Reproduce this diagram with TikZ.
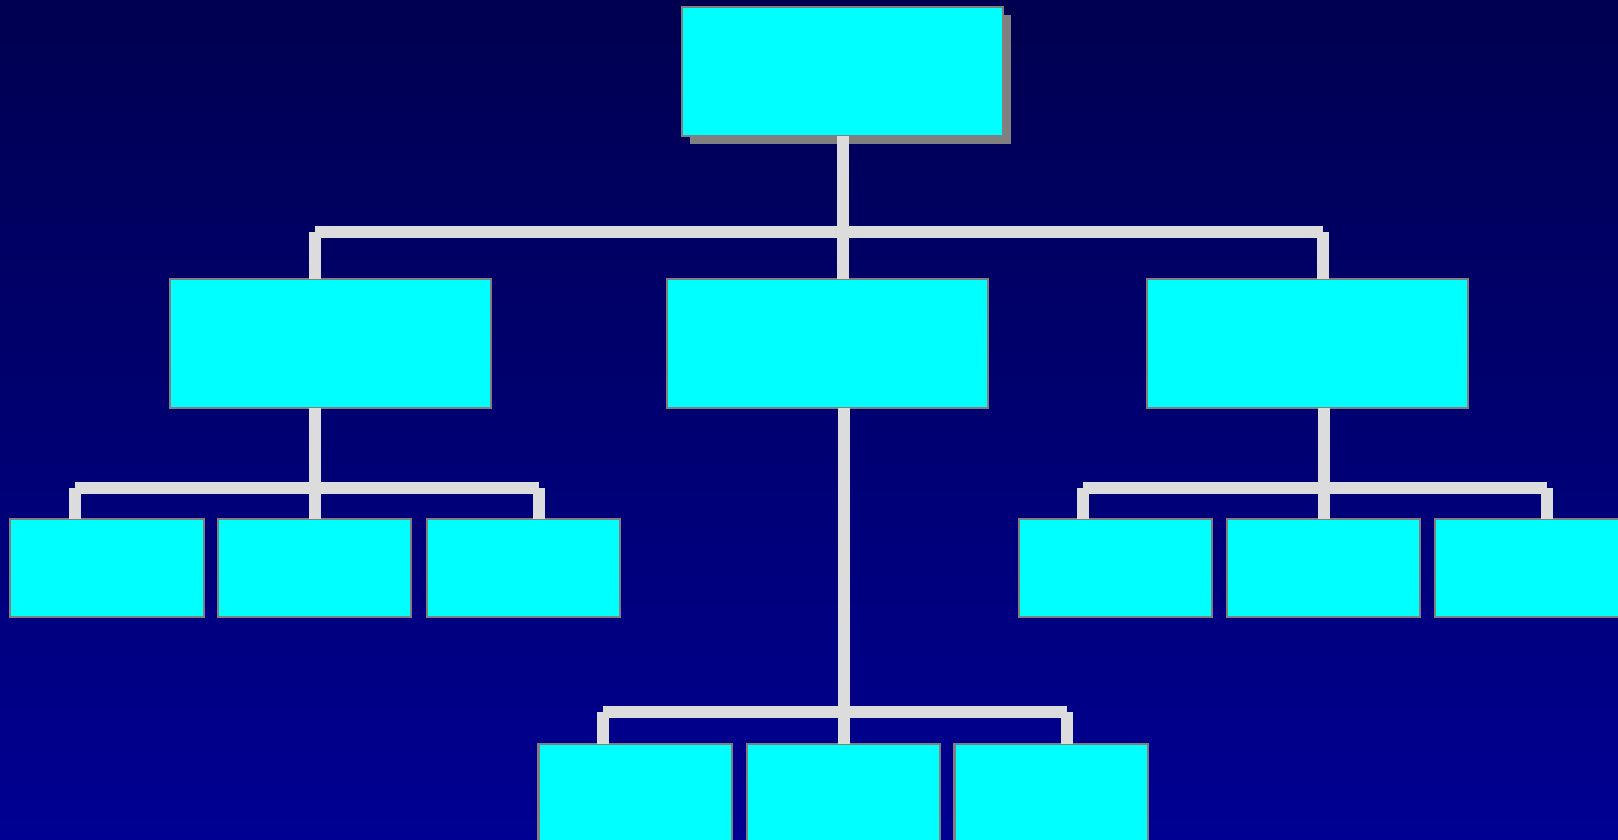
\documentclass[tikz,border=0pt]{standalone}
\usepackage{tikz}
\usepackage{xcolor}
\usetikzlibrary{shadows}
\definecolor{bgtop}{RGB}{0, 0, 80}
\definecolor{bgbot}{RGB}{0, 0, 146}
\definecolor{boxfill}{RGB}{0, 255, 255}
\definecolor{boxline}{RGB}{128, 128, 128}
\definecolor{linkgray}{RGB}{220, 220, 220}

\begin{document}
\begin{tikzpicture}[x=0.01cm, y=-0.01cm,
    box/.style={rectangle, draw=boxline, fill=boxfill, line width=0.6pt,
                inner sep=0pt, outer sep=0pt, minimum width=3.21cm, minimum height=1.29cm},
    small/.style={box, minimum width=1.93cm, minimum height=0.98cm},
    link/.style={draw=linkgray, line width=0.12cm}]

    % Background
    \clip (0, 0) rectangle (1618, 839);
    \shade[top color=bgtop, bottom color=bgbot] (0, 0) rectangle (1618, 839);

    % Top box
    \node[box, drop shadow={shadow xshift=0.08cm, shadow yshift=-0.08cm,
          fill=boxline, opacity=1}] (T) at (842.5, 71.5) {};

    % Second row
    \node[box] (L) at (330.5, 343.5) {};
    \node[box] (M) at (827.5, 343.5) {};
    \node[box] (R) at (1307.5, 343.5) {};

    % Third row, left
    \node[small] (L1) at (107, 568) {};
    \node[small] (L2) at (314.5, 568) {};
    \node[small] (L3) at (523.5, 568) {};

    % Third row, right
    \node[small] (R1) at (1115.5, 568) {};
    \node[small] (R2) at (1323.5, 568) {};
    \node[small] (R3) at (1531.5, 568) {};

    % Bottom row
    \node[small] (M1) at (635, 793) {};
    \node[small] (M2) at (843.5, 793) {};
    \node[small] (M3) at (1051, 793) {};

    % Junctions
    \coordinate (ja) at (315, 232);
    \coordinate (jb) at (1323, 232);
    \coordinate (ka) at (75, 488);
    \coordinate (kb) at (539, 488);
    \coordinate (ra) at (1083, 488);
    \coordinate (rb) at (1547, 488);
    \coordinate (ma) at (603, 712);
    \coordinate (mb) at (1067, 712);

    % Top to second row
    \draw[link] (T.south) -- (T.south |- M.north);
    \draw[link] (ja) -- (jb);
    \draw[link] (ja) -- (ja |- L.north);
    \draw[link] (jb) -- (jb |- R.north);

    % Left branch
    \draw[link] (L2.north |- L.south) -- (L2.north);
    \draw[link] (ka) -- (kb);
    \draw[link] (ka) -- (ka |- L1.north);
    \draw[link] (kb) -- (kb |- L3.north);

    % Right branch
    \draw[link] (R2.north |- R.south) -- (R2.north);
    \draw[link] (ra) -- (rb);
    \draw[link] (ra) -- (ra |- R1.north);
    \draw[link] (rb) -- (rb |- R3.north);

    % Middle branch
    \draw[link] (M2.north |- M.south) -- (M2.north);
    \draw[link] (ma) -- (mb);
    \draw[link] (ma) -- (ma |- M1.north);
    \draw[link] (mb) -- (mb |- M3.north);
\end{tikzpicture}
\end{document}
